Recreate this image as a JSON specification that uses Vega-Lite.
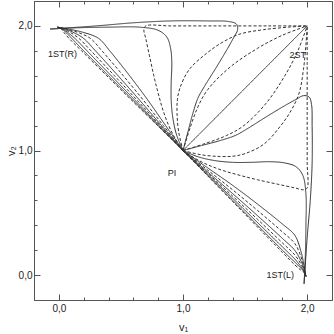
{
"$schema":"https://vega.github.io/schema/vega-lite/v6.json",
"width":298,"height":299,"autosize":"none",
"padding":{"left":34,"top":1,"right":2,"bottom":34},
"config":{"font":"Liberation Sans","view":{"stroke":null},
 "axis":{"grid":false,"domainColor":"#555","tickColor":"#555","labelColor":"#222","titleColor":"#222","labelFontSize":10,"titleFontSize":11,"titleFontWeight":"normal","labelOverlap":false,"values":[0,0.25,0.5,0.75,1,1.25,1.5,1.75,2],
  "tickSize":{"condition":{"test":"datum.value % 0.5 == 0","value":-6},"value":-3}}},
"datasets":{
"curves":[
{"c":"Bm","i":0,"x":1,"y":1,"s":"d"},{"c":"Bm","i":1,"x":0.795,"y":1.2,"s":"d"},{"c":"Bm","i":2,"x":0.59,"y":1.4,"s":"d"},{"c":"Bm","i":3,"x":0.386,"y":1.6,"s":"d"},{"c":"Bm","i":4,"x":0.183,"y":1.8,"s":"d"},{"c":"Bm","i":5,"x":0.082,"y":1.9,"s":"d"},{"c":"Bm","i":6,"x":0.039,"y":1.95,"s":"d"},{"c":"Bm","i":7,"x":0.021,"y":1.975,"s":"d"},{"c":"Bm","i":8,"x":-0.01,"y":1.99,"s":"d"},
{"c":"B0","i":0,"x":1,"y":1,"s":"s"},{"c":"B0","i":1,"x":0.6,"y":1.4,"s":"s"},{"c":"B0","i":2,"x":0.2,"y":1.8,"s":"s"},{"c":"B0","i":3,"x":0.025,"y":1.975,"s":"s"},{"c":"B0","i":4,"x":-0.01,"y":1.99,"s":"s"},
{"c":"B1","i":0,"x":1,"y":1,"s":"s"},{"c":"B1","i":1,"x":0.808,"y":1.2,"s":"s"},{"c":"B1","i":2,"x":0.616,"y":1.4,"s":"s"},{"c":"B1","i":3,"x":0.422,"y":1.6,"s":"s"},{"c":"B1","i":4,"x":0.227,"y":1.8,"s":"s"},{"c":"B1","i":5,"x":0.129,"y":1.9,"s":"s"},{"c":"B1","i":6,"x":0.068,"y":1.95,"s":"s"},{"c":"B1","i":7,"x":0.032,"y":1.975,"s":"s"},{"c":"B1","i":8,"x":-0.01,"y":1.99,"s":"s"},
{"c":"B2","i":0,"x":1,"y":1,"s":"d"},{"c":"B2","i":1,"x":0.817,"y":1.2,"s":"d"},{"c":"B2","i":2,"x":0.634,"y":1.4,"s":"d"},{"c":"B2","i":3,"x":0.448,"y":1.6,"s":"d"},{"c":"B2","i":4,"x":0.259,"y":1.8,"s":"d"},{"c":"B2","i":5,"x":0.162,"y":1.9,"s":"d"},{"c":"B2","i":6,"x":0.089,"y":1.95,"s":"d"},{"c":"B2","i":7,"x":0.039,"y":1.975,"s":"d"},{"c":"B2","i":8,"x":-0.01,"y":1.99,"s":"d"},
{"c":"B3","i":0,"x":1,"y":1,"s":"s"},{"c":"B3","i":1,"x":0.827,"y":1.2,"s":"s"},{"c":"B3","i":2,"x":0.654,"y":1.4,"s":"s"},{"c":"B3","i":3,"x":0.477,"y":1.6,"s":"s"},{"c":"B3","i":4,"x":0.295,"y":1.8,"s":"s"},{"c":"B3","i":5,"x":0.199,"y":1.9,"s":"s"},{"c":"B3","i":6,"x":0.113,"y":1.95,"s":"s"},{"c":"B3","i":7,"x":0.048,"y":1.975,"s":"s"},{"c":"B3","i":8,"x":-0.01,"y":1.99,"s":"s"},
{"c":"B4","i":0,"x":1,"y":1,"s":"d"},{"c":"B4","i":1,"x":0.842,"y":1.2,"s":"d"},{"c":"B4","i":2,"x":0.684,"y":1.4,"s":"d"},{"c":"B4","i":3,"x":0.519,"y":1.6,"s":"d"},{"c":"B4","i":4,"x":0.347,"y":1.8,"s":"d"},{"c":"B4","i":5,"x":0.254,"y":1.9,"s":"d"},{"c":"B4","i":6,"x":0.148,"y":1.95,"s":"d"},{"c":"B4","i":7,"x":0.06,"y":1.975,"s":"d"},{"c":"B4","i":8,"x":-0.01,"y":1.99,"s":"d"},
{"c":"B5","i":0,"x":1,"y":1,"s":"s"},{"c":"B5","i":1,"x":0.86,"y":1.2,"s":"s"},{"c":"B5","i":2,"x":0.72,"y":1.4,"s":"s"},{"c":"B5","i":3,"x":0.57,"y":1.6,"s":"s"},{"c":"B5","i":4,"x":0.41,"y":1.8,"s":"s"},{"c":"B5","i":5,"x":0.32,"y":1.9,"s":"s"},{"c":"B5","i":6,"x":0.19,"y":1.95,"s":"s"},{"c":"B5","i":7,"x":0.075,"y":1.975,"s":"s"},{"c":"B5","i":8,"x":-0.01,"y":1.99,"s":"s"},
{"c":"B6","i":0,"x":1,"y":1,"s":"d"},{"c":"B6","i":1,"x":0.935,"y":1.1,"s":"d"},{"c":"B6","i":2,"x":0.885,"y":1.2,"s":"d"},{"c":"B6","i":3,"x":0.84,"y":1.32,"s":"d"},{"c":"B6","i":4,"x":0.8,"y":1.46,"s":"d"},{"c":"B6","i":5,"x":0.765,"y":1.6,"s":"d"},{"c":"B6","i":6,"x":0.73,"y":1.76,"s":"d"},{"c":"B6","i":7,"x":0.7,"y":1.9,"s":"d"},{"c":"B6","i":8,"x":0.685,"y":1.97,"s":"d"},{"c":"B6","i":9,"x":0.7,"y":2.0,"s":"d"},{"c":"B6","i":10,"x":0.9,"y":2.0,"s":"d"},{"c":"B6","i":11,"x":1.3,"y":2.0,"s":"d"},{"c":"B6","i":12,"x":1.7,"y":2.0,"s":"d"},{"c":"B6","i":13,"x":2.0,"y":2.0,"s":"d"},
{"c":"B7","i":0,"x":1,"y":1,"s":"s"},{"c":"B7","i":1,"x":0.95,"y":1.12,"s":"s"},{"c":"B7","i":2,"x":0.92,"y":1.25,"s":"s"},{"c":"B7","i":3,"x":0.905,"y":1.4,"s":"s"},{"c":"B7","i":4,"x":0.905,"y":1.55,"s":"s"},{"c":"B7","i":5,"x":0.91,"y":1.7,"s":"s"},{"c":"B7","i":6,"x":0.9,"y":1.82,"s":"s"},{"c":"B7","i":7,"x":0.87,"y":1.91,"s":"s"},{"c":"B7","i":8,"x":0.8,"y":1.965,"s":"s"},{"c":"B7","i":9,"x":0.65,"y":1.99,"s":"s"},{"c":"B7","i":10,"x":0.4,"y":1.99,"s":"s"},{"c":"B7","i":11,"x":0.15,"y":1.985,"s":"s"},{"c":"B7","i":12,"x":-0.07,"y":1.975,"s":"s"},
{"c":"B8","i":0,"x":1,"y":1,"s":"d"},{"c":"B8","i":1,"x":0.965,"y":1.15,"s":"d"},{"c":"B8","i":2,"x":0.952,"y":1.3,"s":"d"},{"c":"B8","i":3,"x":0.955,"y":1.41,"s":"d"},{"c":"B8","i":4,"x":0.975,"y":1.5,"s":"d"},{"c":"B8","i":5,"x":1.05,"y":1.65,"s":"d"},{"c":"B8","i":6,"x":1.19,"y":1.78,"s":"d"},{"c":"B8","i":7,"x":1.32,"y":1.87,"s":"d"},{"c":"B8","i":8,"x":1.46,"y":1.935,"s":"d"},{"c":"B8","i":9,"x":1.65,"y":1.97,"s":"d"},{"c":"B8","i":10,"x":1.85,"y":1.99,"s":"d"},{"c":"B8","i":11,"x":2,"y":2,"s":"d"},
{"c":"B9","i":0,"x":1,"y":1,"s":"s"},{"c":"B9","i":1,"x":1.04,"y":1.15,"s":"s"},{"c":"B9","i":2,"x":1.08,"y":1.3,"s":"s"},{"c":"B9","i":3,"x":1.12,"y":1.42,"s":"s"},{"c":"B9","i":4,"x":1.17,"y":1.51,"s":"s"},{"c":"B9","i":5,"x":1.27,"y":1.67,"s":"s"},{"c":"B9","i":6,"x":1.36,"y":1.82,"s":"s"},{"c":"B9","i":7,"x":1.41,"y":1.91,"s":"s"},{"c":"B9","i":8,"x":1.44,"y":1.97,"s":"s"},{"c":"B9","i":9,"x":1.43,"y":2.015,"s":"s"},{"c":"B9","i":10,"x":1.37,"y":2.035,"s":"s"},{"c":"B9","i":11,"x":1.2,"y":2.04,"s":"s"},{"c":"B9","i":12,"x":0.9,"y":2.04,"s":"s"},{"c":"B9","i":13,"x":0.6,"y":2.025,"s":"s"},{"c":"B9","i":14,"x":0.3,"y":2.0,"s":"s"},{"c":"B9","i":15,"x":-0.07,"y":1.975,"s":"s"},
{"c":"B10","i":0,"x":1,"y":1,"s":"d"},{"c":"B10","i":1,"x":1.06,"y":1.19,"s":"d"},{"c":"B10","i":2,"x":1.12,"y":1.35,"s":"d"},{"c":"B10","i":3,"x":1.2,"y":1.49,"s":"d"},{"c":"B10","i":4,"x":1.38,"y":1.67,"s":"d"},{"c":"B10","i":5,"x":1.6,"y":1.82,"s":"d"},{"c":"B10","i":6,"x":1.8,"y":1.925,"s":"d"},{"c":"B10","i":7,"x":2,"y":2,"s":"d"},
{"c":"B11","i":0,"x":1,"y":1,"s":"s"},{"c":"B11","i":1,"x":2,"y":2,"s":"s"},
{"c":"Lm","i":0,"y":1,"x":1,"s":"d"},{"c":"Lm","i":1,"y":0.795,"x":1.2,"s":"d"},{"c":"Lm","i":2,"y":0.59,"x":1.4,"s":"d"},{"c":"Lm","i":3,"y":0.386,"x":1.6,"s":"d"},{"c":"Lm","i":4,"y":0.183,"x":1.8,"s":"d"},{"c":"Lm","i":5,"y":0.082,"x":1.9,"s":"d"},{"c":"Lm","i":6,"y":0.039,"x":1.95,"s":"d"},{"c":"Lm","i":7,"y":0.021,"x":1.975,"s":"d"},{"c":"Lm","i":8,"y":-0.01,"x":1.99,"s":"d"},
{"c":"L0","i":0,"y":1,"x":1,"s":"s"},{"c":"L0","i":1,"y":0.6,"x":1.4,"s":"s"},{"c":"L0","i":2,"y":0.2,"x":1.8,"s":"s"},{"c":"L0","i":3,"y":0.025,"x":1.975,"s":"s"},{"c":"L0","i":4,"y":-0.01,"x":1.99,"s":"s"},
{"c":"L1","i":0,"y":1,"x":1,"s":"s"},{"c":"L1","i":1,"y":0.808,"x":1.2,"s":"s"},{"c":"L1","i":2,"y":0.616,"x":1.4,"s":"s"},{"c":"L1","i":3,"y":0.422,"x":1.6,"s":"s"},{"c":"L1","i":4,"y":0.227,"x":1.8,"s":"s"},{"c":"L1","i":5,"y":0.129,"x":1.9,"s":"s"},{"c":"L1","i":6,"y":0.068,"x":1.95,"s":"s"},{"c":"L1","i":7,"y":0.032,"x":1.975,"s":"s"},{"c":"L1","i":8,"y":-0.01,"x":1.99,"s":"s"},
{"c":"L2","i":0,"y":1,"x":1,"s":"d"},{"c":"L2","i":1,"y":0.817,"x":1.2,"s":"d"},{"c":"L2","i":2,"y":0.634,"x":1.4,"s":"d"},{"c":"L2","i":3,"y":0.448,"x":1.6,"s":"d"},{"c":"L2","i":4,"y":0.259,"x":1.8,"s":"d"},{"c":"L2","i":5,"y":0.162,"x":1.9,"s":"d"},{"c":"L2","i":6,"y":0.089,"x":1.95,"s":"d"},{"c":"L2","i":7,"y":0.039,"x":1.975,"s":"d"},{"c":"L2","i":8,"y":-0.01,"x":1.99,"s":"d"},
{"c":"L3","i":0,"y":1,"x":1,"s":"s"},{"c":"L3","i":1,"y":0.827,"x":1.2,"s":"s"},{"c":"L3","i":2,"y":0.654,"x":1.4,"s":"s"},{"c":"L3","i":3,"y":0.477,"x":1.6,"s":"s"},{"c":"L3","i":4,"y":0.295,"x":1.8,"s":"s"},{"c":"L3","i":5,"y":0.199,"x":1.9,"s":"s"},{"c":"L3","i":6,"y":0.113,"x":1.95,"s":"s"},{"c":"L3","i":7,"y":0.048,"x":1.975,"s":"s"},{"c":"L3","i":8,"y":-0.01,"x":1.99,"s":"s"},
{"c":"L4","i":0,"y":1,"x":1,"s":"d"},{"c":"L4","i":1,"y":0.842,"x":1.2,"s":"d"},{"c":"L4","i":2,"y":0.684,"x":1.4,"s":"d"},{"c":"L4","i":3,"y":0.519,"x":1.6,"s":"d"},{"c":"L4","i":4,"y":0.347,"x":1.8,"s":"d"},{"c":"L4","i":5,"y":0.254,"x":1.9,"s":"d"},{"c":"L4","i":6,"y":0.148,"x":1.95,"s":"d"},{"c":"L4","i":7,"y":0.06,"x":1.975,"s":"d"},{"c":"L4","i":8,"y":-0.01,"x":1.99,"s":"d"},
{"c":"L5","i":0,"y":1,"x":1,"s":"s"},{"c":"L5","i":1,"y":0.86,"x":1.2,"s":"s"},{"c":"L5","i":2,"y":0.72,"x":1.4,"s":"s"},{"c":"L5","i":3,"y":0.57,"x":1.6,"s":"s"},{"c":"L5","i":4,"y":0.41,"x":1.8,"s":"s"},{"c":"L5","i":5,"y":0.32,"x":1.9,"s":"s"},{"c":"L5","i":6,"y":0.19,"x":1.95,"s":"s"},{"c":"L5","i":7,"y":0.075,"x":1.975,"s":"s"},{"c":"L5","i":8,"y":-0.01,"x":1.99,"s":"s"},
{"c":"L6","i":0,"y":1,"x":1,"s":"d"},{"c":"L6","i":1,"y":0.935,"x":1.1,"s":"d"},{"c":"L6","i":2,"y":0.885,"x":1.2,"s":"d"},{"c":"L6","i":3,"y":0.84,"x":1.32,"s":"d"},{"c":"L6","i":4,"y":0.8,"x":1.46,"s":"d"},{"c":"L6","i":5,"y":0.765,"x":1.6,"s":"d"},{"c":"L6","i":6,"y":0.73,"x":1.76,"s":"d"},{"c":"L6","i":7,"y":0.7,"x":1.9,"s":"d"},{"c":"L6","i":8,"y":0.685,"x":1.97,"s":"d"},{"c":"L6","i":9,"y":0.7,"x":2.0,"s":"d"},{"c":"L6","i":10,"y":0.9,"x":2.0,"s":"d"},{"c":"L6","i":11,"y":1.3,"x":2.0,"s":"d"},{"c":"L6","i":12,"y":1.7,"x":2.0,"s":"d"},{"c":"L6","i":13,"y":2.0,"x":2.0,"s":"d"},
{"c":"L7","i":0,"y":1,"x":1,"s":"s"},{"c":"L7","i":1,"y":0.95,"x":1.12,"s":"s"},{"c":"L7","i":2,"y":0.92,"x":1.25,"s":"s"},{"c":"L7","i":3,"y":0.905,"x":1.4,"s":"s"},{"c":"L7","i":4,"y":0.905,"x":1.55,"s":"s"},{"c":"L7","i":5,"y":0.91,"x":1.7,"s":"s"},{"c":"L7","i":6,"y":0.9,"x":1.82,"s":"s"},{"c":"L7","i":7,"y":0.87,"x":1.91,"s":"s"},{"c":"L7","i":8,"y":0.8,"x":1.965,"s":"s"},{"c":"L7","i":9,"y":0.65,"x":1.99,"s":"s"},{"c":"L7","i":10,"y":0.4,"x":1.99,"s":"s"},{"c":"L7","i":11,"y":0.15,"x":1.985,"s":"s"},{"c":"L7","i":12,"y":-0.07,"x":1.975,"s":"s"},
{"c":"L8","i":0,"y":1,"x":1,"s":"d"},{"c":"L8","i":1,"y":0.965,"x":1.15,"s":"d"},{"c":"L8","i":2,"y":0.952,"x":1.3,"s":"d"},{"c":"L8","i":3,"y":0.955,"x":1.41,"s":"d"},{"c":"L8","i":4,"y":0.975,"x":1.5,"s":"d"},{"c":"L8","i":5,"y":1.05,"x":1.65,"s":"d"},{"c":"L8","i":6,"y":1.19,"x":1.78,"s":"d"},{"c":"L8","i":7,"y":1.32,"x":1.87,"s":"d"},{"c":"L8","i":8,"y":1.46,"x":1.935,"s":"d"},{"c":"L8","i":9,"y":1.65,"x":1.97,"s":"d"},{"c":"L8","i":10,"y":1.85,"x":1.99,"s":"d"},{"c":"L8","i":11,"y":2,"x":2,"s":"d"},
{"c":"L9","i":0,"y":1,"x":1,"s":"s"},{"c":"L9","i":1,"y":1.04,"x":1.15,"s":"s"},{"c":"L9","i":2,"y":1.08,"x":1.3,"s":"s"},{"c":"L9","i":3,"y":1.12,"x":1.42,"s":"s"},{"c":"L9","i":4,"y":1.17,"x":1.51,"s":"s"},{"c":"L9","i":5,"y":1.27,"x":1.67,"s":"s"},{"c":"L9","i":6,"y":1.36,"x":1.82,"s":"s"},{"c":"L9","i":7,"y":1.41,"x":1.91,"s":"s"},{"c":"L9","i":8,"y":1.44,"x":1.97,"s":"s"},{"c":"L9","i":9,"y":1.43,"x":2.015,"s":"s"},{"c":"L9","i":10,"y":1.37,"x":2.035,"s":"s"},{"c":"L9","i":11,"y":1.2,"x":2.04,"s":"s"},{"c":"L9","i":12,"y":0.9,"x":2.04,"s":"s"},{"c":"L9","i":13,"y":0.6,"x":2.025,"s":"s"},{"c":"L9","i":14,"y":0.3,"x":2.0,"s":"s"},{"c":"L9","i":15,"y":-0.07,"x":1.975,"s":"s"},
{"c":"L10","i":0,"y":1,"x":1,"s":"d"},{"c":"L10","i":1,"y":1.06,"x":1.19,"s":"d"},{"c":"L10","i":2,"y":1.12,"x":1.35,"s":"d"},{"c":"L10","i":3,"y":1.2,"x":1.49,"s":"d"},{"c":"L10","i":4,"y":1.38,"x":1.67,"s":"d"},{"c":"L10","i":5,"y":1.6,"x":1.82,"s":"d"},{"c":"L10","i":6,"y":1.8,"x":1.925,"s":"d"},{"c":"L10","i":7,"y":2,"x":2,"s":"d"}
],
"labels":[{"t":"1ST(R)","x":0.03,"y":1.775},{"t":"2ST","x":1.925,"y":1.768},{"t":"PI","x":0.912,"y":0.818},{"t":"1ST(L)","x":1.783,"y":0.0}]
},
"layer":[
{"data":{"name":"curves"},
 "mark":{"type":"line","interpolate":"catmull-rom","strokeWidth":1,"color":"#333"},
 "encoding":{
  "x":{"field":"x","type":"quantitative","scale":{"domain":[-0.2,2.2],"nice":false,"zero":false},
   "axis":{"orient":"bottom","title":"v₁","labelPadding":9,"titlePadding":5,
    "labelExpr":"datum.value % 0.5 == 0 ? replace(format(datum.value,'.1f'),'.',',') : ''"}},
  "y":{"field":"y","type":"quantitative","scale":{"domain":[-0.2,2.2],"nice":false,"zero":false},
   "axis":{"orient":"left","title":"v₂","labelPadding":8,"titlePadding":2,
    "labelExpr":"datum.value % 0.5 == 0 ? replace(format(datum.value,'.1f'),'.',',') : ''"}},
  "detail":{"field":"c","type":"nominal"},
  "order":{"field":"i","type":"quantitative"},
  "strokeDash":{"field":"s","type":"nominal","scale":{"domain":["s","d"],"range":[[1,0],[3,2]]},"legend":null}
 }},
{"data":{"name":"labels"},
 "mark":{"type":"text","fontSize":9,"color":"#222"},
 "encoding":{
  "x":{"field":"x","type":"quantitative","scale":{"domain":[-0.2,2.2],"nice":false,"zero":false},
   "axis":{"orient":"top","labels":false,"title":null}},
  "y":{"field":"y","type":"quantitative","scale":{"domain":[-0.2,2.2],"nice":false,"zero":false},
   "axis":{"orient":"right","labels":false,"title":null}},
  "text":{"field":"t","type":"nominal"}
 }}
],
"resolve":{"axis":{"x":"independent","y":"independent"}}
}
